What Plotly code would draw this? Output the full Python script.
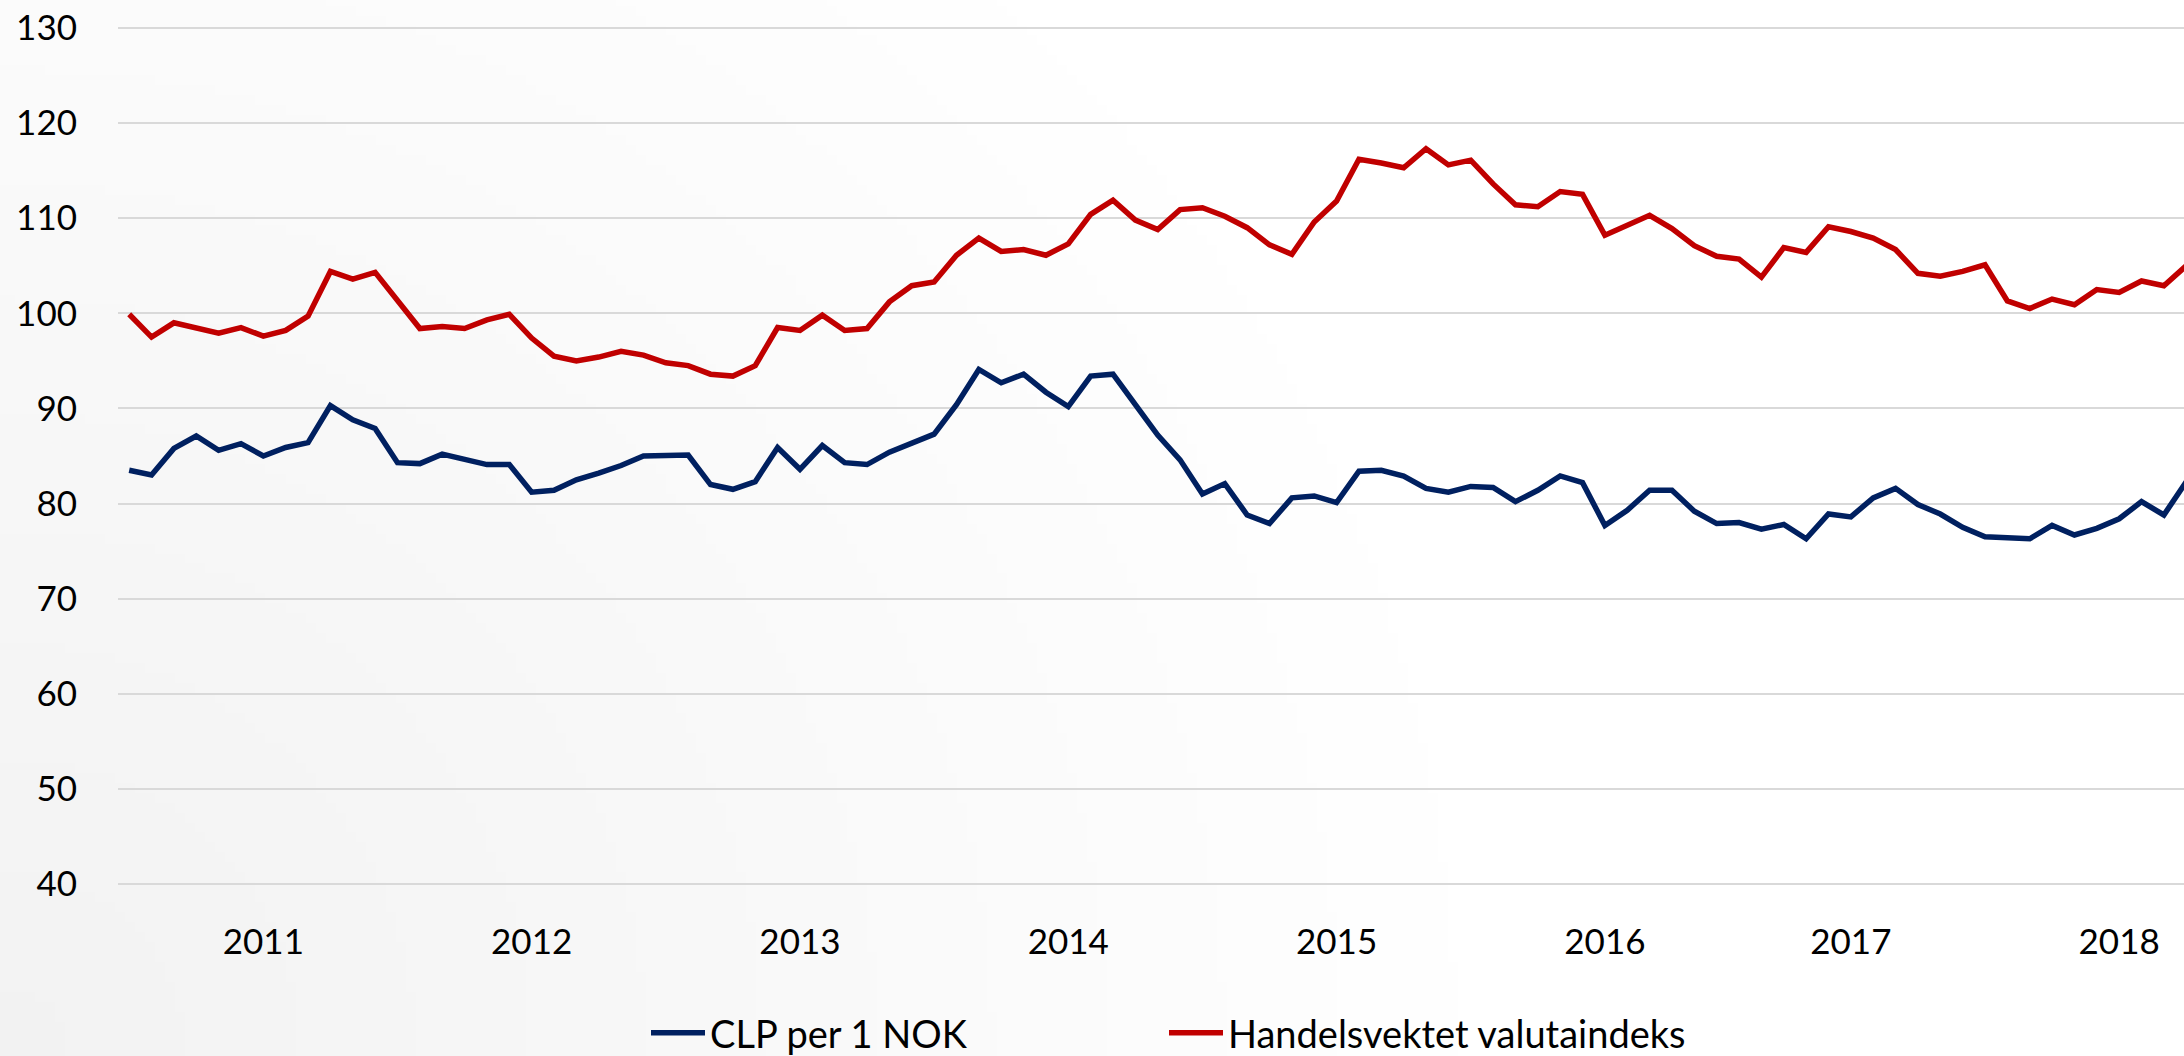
import zlib, struct, base64, math
import plotly.graph_objects as go

clp_per_nok = [83.5, 83.0, 85.8, 87.1, 85.6, 86.3, 85.0, 85.9, 86.4, 90.3,
               88.8, 87.9, 84.3, 84.2, 85.2, 84.6, 84.1, 84.1, 81.2, 81.4,
               82.5, 83.2, 84.0, 85.0, 85.1, 85.1, 82.0, 81.5, 82.3, 85.9,
               83.6, 86.1, 84.3, 84.1, 85.4, 86.4, 87.3, 90.4, 94.1, 92.7,
               93.6, 91.7, 90.2, 93.4, 93.6, 90.4, 87.2, 84.6, 81.0, 82.1,
               78.8, 77.9, 80.6, 80.8, 80.1, 83.4, 83.5, 82.9, 81.6, 81.2,
               81.8, 81.7, 80.2, 81.4, 82.9, 82.2, 77.7, 79.3, 81.4, 81.4,
               79.2, 77.9, 78.0, 77.3, 77.8, 76.3, 78.9, 78.6, 80.6, 81.6,
               79.9, 78.9, 77.5, 76.5, 76.4, 76.3, 77.7, 76.7, 77.4, 78.4,
               80.2, 78.8, 82.3]

handelsvektet = [99.9, 97.5, 99.0, 98.4, 97.9, 98.5, 97.6, 98.2, 99.7, 104.4,
                 103.6, 104.3, 101.3, 98.4, 98.6, 98.4, 99.3, 99.9, 97.4, 95.5,
                 95.0, 95.4, 96.0, 95.6, 94.8, 94.5, 93.6, 93.4, 94.5, 98.5,
                 98.2, 99.8, 98.2, 98.4, 101.2, 102.9, 103.3, 106.1, 107.9, 106.5,
                 106.7, 106.1, 107.3, 110.4, 111.9, 109.8, 108.8, 110.9, 111.1, 110.2,
                 109.0, 107.2, 106.2, 109.6, 111.8, 116.2, 115.8, 115.3, 117.3, 115.6,
                 116.1, 113.6, 111.4, 111.2, 112.8, 112.5, 108.2, 109.2, 110.3, 108.9,
                 107.1, 106.0, 105.7, 103.8, 106.9, 106.4, 109.1, 108.6, 107.9, 106.7,
                 104.2, 103.9, 104.4, 105.1, 101.3, 100.5, 101.5, 100.9, 102.5, 102.2,
                 103.4, 102.9, 105.0]

month_index = list(range(len(clp_per_nok)))
year_tick_index = [6, 18, 30, 42, 54, 66, 77, 89]
year_labels = ["2011", "2012", "2013", "2014", "2015", "2016", "2017", "2018"]
series_names = ["CLP per 1 NOK", "Handelsvektet valutaindeks"]

# ---- canvas geometry ----
W, H = 2184, 1056
ML, MR, MT, MB = 118, 0, 26, 170
PW, PH = W - ML - MR, H - MT - MB


# ---- soft background gradient (grey in lower-left corner) ----
def make_png(w, h, rows):
    raw = b"".join(b"\x00" + bytes(r) for r in rows)

    def chunk(t, d):
        c = struct.pack(">I", len(d)) + t + d
        return c + struct.pack(">I", zlib.crc32(t + d) & 0xFFFFFFFF)

    return (b"\x89PNG\r\n\x1a\n"
            + chunk(b"IHDR", struct.pack(">IIBBBBB", w, h, 8, 0, 0, 0, 0))
            + chunk(b"IDAT", zlib.compress(raw))
            + chunk(b"IEND", b""))


gw, gh = 218, 106
rows = []
for j in range(gh):
    row = []
    for i in range(gw):
        d = math.hypot(i * 10, (gh - 1 - j) * 10)
        t = min(1.0, d / 1500.0)
        row.append(int(round(242 + 13 * t)))
    rows.append(row)
bg_uri = "data:image/png;base64," + base64.b64encode(make_png(gw, gh, rows)).decode()

FONT = "Lato"
legend_y = -(1033 - (MT + PH)) / PH

fig = go.Figure()
fig.add_trace(go.Scatter(x=month_index, y=clp_per_nok, mode="lines",
                         name=series_names[0], legend="legend",
                         line=dict(color="#002060", width=5.5)))
fig.add_trace(go.Scatter(x=month_index, y=handelsvektet, mode="lines",
                         name=series_names[1], legend="legend2",
                         line=dict(color="#C00000", width=5.5)))

legend_common = dict(orientation="h", xanchor="left", yanchor="middle",
                     y=legend_y, font=dict(family=FONT, size=38, color="black"),
                     bgcolor="rgba(0,0,0,0)", itemwidth=54)

fig.update_layout(
    width=W, height=H,
    margin=dict(l=ML, r=MR, t=MT, b=MB, pad=0, autoexpand=False),
    paper_bgcolor="white",
    plot_bgcolor="rgba(0,0,0,0)",
    font=dict(family=FONT, color="black", size=35),
    images=[dict(source=bg_uri, xref="paper", yref="paper",
                 x=-ML / PW, y=1 + MT / PH, sizex=W / PW, sizey=H / PH,
                 xanchor="left", yanchor="top", sizing="stretch",
                 layer="below")],
    xaxis=dict(range=[-0.5, 91.9], showgrid=False, zeroline=False,
               showline=False, ticks="", tickmode="array",
               tickvals=year_tick_index, ticktext=year_labels,
               tickfont=dict(family=FONT, size=35, color="black"),
               ticklabelstandoff=32, automargin=False),
    yaxis=dict(range=[39.8, 130.2], tickmode="linear", dtick=10, tick0=40,
               showgrid=True, gridcolor="#d9d9d9", gridwidth=1.5,
               zeroline=False, showline=False, ticks="",
               tickfont=dict(family=FONT, size=35, color="black"),
               ticklabelstandoff=40, automargin=False),
    showlegend=True,
    legend=dict(legend_common, x=(646 - ML) / PW),
    legend2=dict(legend_common, x=(1164 - ML) / PW),
)

fig.write_html("out.html",
               config={"displayModeBar": False},
               post_script="document.body.style.margin='0';"
                           "document.body.style.overflow='hidden';")
